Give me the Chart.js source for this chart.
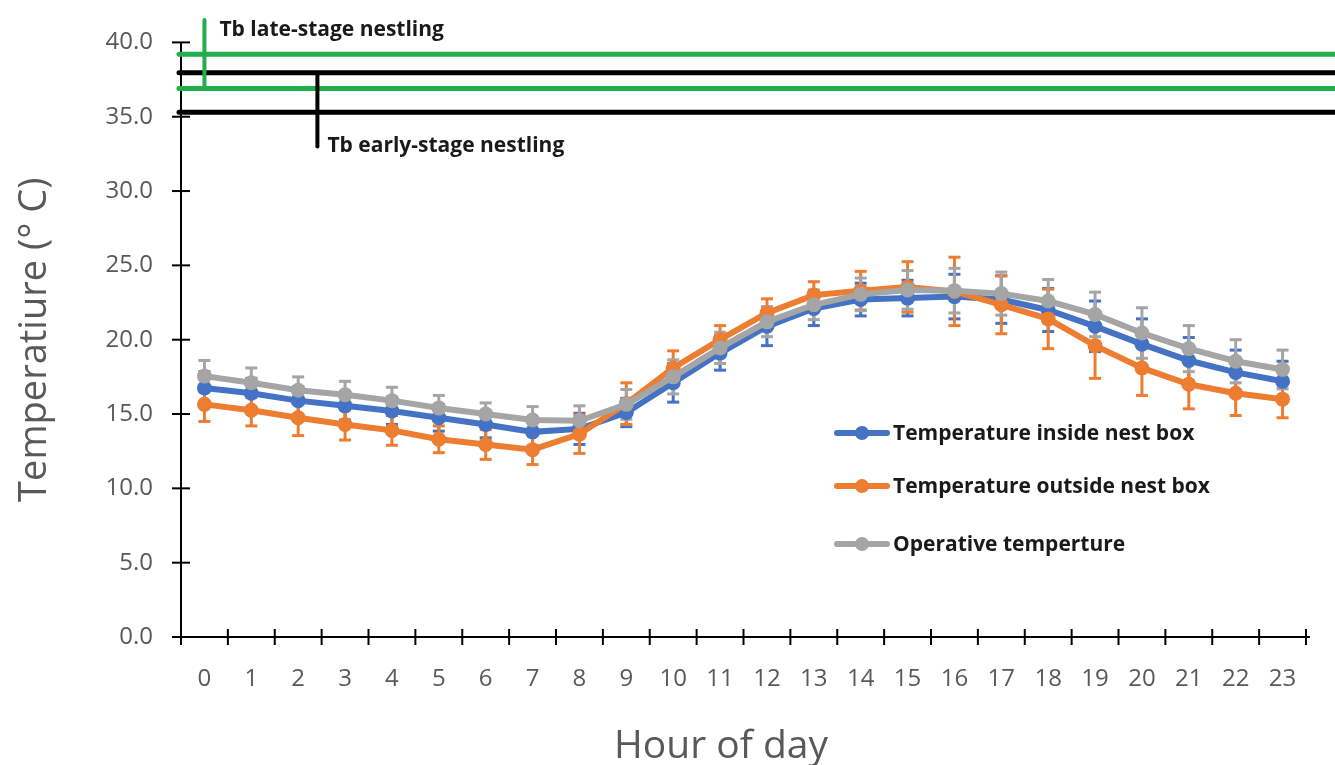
<!DOCTYPE html>
<html>
<head>
<meta charset="utf-8">
<script src="https://cdn.jsdelivr.net/npm/chart.js@4"></script>
<style>
html, body {margin: 0; padding: 0; background: #fff;}
#wrap {width: 1335px; height: 765px;}
</style>
</head>
<body>
<div id="wrap"><canvas id="chart" width="1335" height="765"></canvas></div>
<script>
const hours = ["0","1","2","3","4","5","6","7","8","9","10","11","12","13","14","15","16","17","18","19","20","21","22","23"];
const inside = [16.75,16.4,15.9,15.55,15.2,14.75,14.3,13.8,14.0,15.1,17.1,19.1,20.9,22.1,22.7,22.8,22.9,22.7,22.0,20.9,19.7,18.6,17.8,17.2];
const insideErr = [1.1,1.0,0.95,0.95,0.9,0.9,0.9,0.95,1.05,0.95,1.3,1.15,1.3,1.15,1.1,1.2,1.5,1.6,1.45,1.7,1.7,1.55,1.5,1.35];
const outside = [15.65,15.25,14.75,14.3,13.9,13.3,12.95,12.6,13.65,15.7,18.1,20.0,21.8,23.0,23.3,23.55,23.25,22.35,21.4,19.6,18.1,17.0,16.4,16.0];
const outsideErr = [1.15,1.05,1.2,1.05,1.0,0.9,1.0,1.0,1.3,1.4,1.15,0.95,0.95,0.9,1.3,1.7,2.3,1.95,2.0,2.2,1.85,1.65,1.5,1.25];
const operative = [17.55,17.1,16.6,16.3,15.9,15.4,15.0,14.6,14.55,15.65,17.5,19.45,21.2,22.35,23.05,23.35,23.3,23.1,22.6,21.7,20.45,19.4,18.55,18.0];
const operativeErr = [1.05,1.0,0.9,0.9,0.9,0.85,0.75,0.9,1.0,1.0,1.15,1.05,1.0,1.0,1.1,1.3,1.5,1.45,1.45,1.5,1.7,1.55,1.45,1.3];
//Body temperature bands: [low, high]
const tbLate = [36.9, 39.2];
const tbEarly = [35.3, 37.95];

const FONT = "'Open Sans', sans-serif";
const series = [
	{label: "Temperature inside nest box", data: inside, err: insideErr, color: "#4472C4", order: 3},
	{label: "Temperature outside nest box", data: outside, err: outsideErr, color: "#ED7D31", order: 2},
	{label: "Operative temperture", data: operative, err: operativeErr, color: "#A5A5A5", order: 1},
];

function line(ctx, x1, y1, x2, y2) {
	ctx.beginPath(); ctx.moveTo(x1, y1); ctx.lineTo(x2, y2); ctx.stroke();
}

const decor = {
	id: "decor",
	beforeDatasetsDraw(chart) {
		//Error bars sit underneath the lines
		const ctx = chart.ctx, y = chart.scales.y;
		ctx.save();
		ctx.lineWidth = 3;
		[0, 1, 2].forEach(i => {
			const s = series[i], meta = chart.getDatasetMeta(i);
			ctx.strokeStyle = s.color;
			meta.data.forEach((pt, j) => {
				const top = y.getPixelForValue(s.data[j] + s.err[j]);
				const bot = y.getPixelForValue(s.data[j] - s.err[j]);
				line(ctx, pt.x, top, pt.x, bot);
				line(ctx, pt.x - 6, top, pt.x + 6, top);
				line(ctx, pt.x - 6, bot, pt.x + 6, bot);
			});
		});
		ctx.restore();
	},
	afterDraw(chart) {
		const ctx = chart.ctx, x = chart.scales.x, y = chart.scales.y;
		const area = chart.chartArea;
		ctx.save();
		//Axes with ticks crossing the line
		ctx.strokeStyle = "#000";
		ctx.lineWidth = 2;
		line(ctx, area.left, area.top, area.left, area.bottom);
		line(ctx, area.left, area.bottom, area.right + 4, area.bottom);
		y.ticks.forEach(t => {
			const py = y.getPixelForValue(t.value);
			line(ctx, area.left - 9, py, area.left + 9, py);
		});
		for (let k = 0; k <= hours.length; ++k) {
			const px = x.getPixelForValue(k - 0.5);
			line(ctx, px, area.bottom - 8, px, area.bottom + 8);
		}
		//Tb bands run right off the edge of the picture
		ctx.lineCap = "round";
		ctx.lineWidth = 5;
		ctx.strokeStyle = "#000";
		tbEarly.forEach(v => line(ctx, area.left - 2, y.getPixelForValue(v), chart.width + 5, y.getPixelForValue(v)));
		ctx.strokeStyle = "#22AE4A";
		tbLate.forEach(v => line(ctx, area.left - 2, y.getPixelForValue(v), chart.width + 5, y.getPixelForValue(v)));
		ctx.lineWidth = 4;
		line(ctx, x.getPixelForValue(0), y.getPixelForValue(41.5), x.getPixelForValue(0), y.getPixelForValue(tbLate[0]));
		ctx.strokeStyle = "#000";
		line(ctx, x.getPixelForValue(2.41), y.getPixelForValue(tbEarly[1]), x.getPixelForValue(2.41), y.getPixelForValue(33.0));
		ctx.fillStyle = "#1a1a1a";
		ctx.font = "bold 21px " + FONT;
		ctx.textBaseline = "middle";
		ctx.fillText("Tb late-stage nestling", x.getPixelForValue(0) + 15, y.getPixelForValue(40.8));
		ctx.fillText("Tb early-stage nestling", x.getPixelForValue(2.41) + 10, y.getPixelForValue(33.0));
		//Legend inside the plot
		const rows = [433, 486, 544];
		series.forEach((s, i) => {
			ctx.strokeStyle = ctx.fillStyle = s.color;
			ctx.lineWidth = 6;
			line(ctx, 837, rows[i], 887, rows[i]);
			ctx.beginPath(); ctx.arc(862, rows[i], 7, 0, Math.PI * 2); ctx.fill();
			ctx.fillStyle = "#1a1a1a";
			ctx.font = "bold 21px " + FONT;
			ctx.fillText(s.label, 893, rows[i] + 1);
		});
		//Axis title, centred a little left of the plot like the original
		ctx.fillStyle = "#595959";
		ctx.font = "39px " + FONT;
		ctx.textAlign = "center";
		ctx.fillText("Hour of day", 721, 747);
		ctx.restore();
	},
};

new Chart(document.getElementById("chart"), {
	type: "line",
	data: {
		labels: hours,
		datasets: series.map(s => ({
			label: s.label,
			data: s.data,
			order: s.order,
			borderColor: s.color, backgroundColor: s.color,
			borderWidth: 6,
			pointRadius: 7.5, pointBorderWidth: 0,
			tension: 0,
		})),
	},
	options: {
		responsive: false,
		animation: false,
		layout: {padding: {top: 38, right: 29, left: 0, bottom: 0}},
		plugins: {legend: {display: false}, tooltip: {enabled: false}},
		scales: {
			x: {
				offset: true,
				grid: {display: false, drawTicks: false},
				border: {display: false},
				ticks: {color: "#595959", font: {family: FONT, size: 24}, padding: 28, maxRotation: 0, autoSkip: false},
				afterFit: s => { s.height = 128; },
			},
			y: {
				min: 0, max: 40,
				grid: {display: false, drawTicks: false},
				border: {display: false},
				ticks: {stepSize: 5, color: "#595959", font: {family: FONT, size: 24}, padding: 28, callback: v => v.toFixed(1)},
				title: {display: true, text: "Temperatiure (° C)", color: "#595959", font: {family: FONT, size: 38}, padding: {top: 12, bottom: 0}},
				afterFit: s => { s.width = 181; },
			},
		},
	},
	plugins: [decor],
});
</script>
</body>
</html>
